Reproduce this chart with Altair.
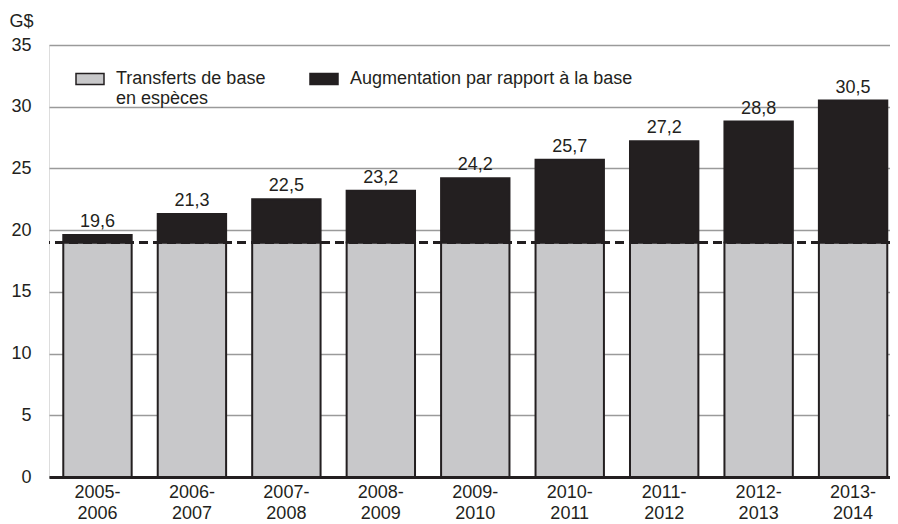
import altair as alt
import pandas as pd

years = ["2005-2006", "2006-2007", "2007-2008", "2008-2009", "2009-2010",
         "2010-2011", "2011-2012", "2012-2013", "2013-2014"]
totals = [19.6, 21.3, 22.5, 23.2, 24.2, 25.7, 27.2, 28.8, 30.5]
base = [19.0, 19.0, 19.0, 19.0, 19.0, 19.0, 19.0, 19.0, 19.0]
total_labels = ["19,6", "21,3", "22,5", "23,2", "24,2", "25,7", "27,2", "28,8", "30,5"]
series = ["Transferts de base en espèces", "Augmentation par rapport à la base"]
colors = ["#c8c8ca", "#231f20"]
y_ticks = [0, 5, 10, 15, 20, 25, 30, 35]
BASE_LINE = 19.0

FONT = "Liberation Sans"
INK = "#231f20"

rows = []
for yr, t, b in zip(years, totals, base):
    rows.append({"year": yr, "series": series[0], "value": b, "order": 0})
    rows.append({"year": yr, "series": series[1], "value": round(t - b, 2), "order": 1})
stack_df = pd.DataFrame(rows)
tot_df = pd.DataFrame({"year": years, "total": totals, "label": total_labels})

x_enc = alt.X(
    "year:N", sort=years,
    scale=alt.Scale(paddingInner=0.276, paddingOuter=0.09, align=0.84),
    axis=alt.Axis(
        title=None, labelAngle=0, ticks=False, domainColor=INK, domainWidth=3,
        labelPadding=6, labelFontSize=18, labelLineHeight=21, labelBaseline="top",
        labelColor=INK, labelFont=FONT, zindex=1,
        labelExpr="[slice(datum.label, 0, 5), slice(datum.label, 5)]",
    ),
)

y_scale = alt.Scale(domain=[0, 35], nice=False)

bars = alt.Chart(stack_df).mark_bar(stroke=INK, strokeWidth=2).encode(
    x=x_enc,
    y=alt.Y(
        "value:Q", stack="zero", scale=y_scale,
        axis=alt.Axis(
            title="G$", titleAngle=0, titleAlign="left", titleBaseline="alphabetic",
            titleX=-40, titleY=-19, titleFontSize=18, titleFontWeight="normal",
            titleColor=INK, titleFont=FONT,
            values=y_ticks, domain=False, ticks=False, labelPadding=18,
            labelFontSize=18, labelColor=INK, labelFont=FONT,
            gridColor="#9a9a9a", gridWidth=1.5,
        ),
    ),
    color=alt.Color(
        "series:N",
        scale=alt.Scale(domain=series, range=colors),
        legend=alt.Legend(
            title=None, orient="none", legendX=26, legendY=19, direction="horizontal",
            symbolType="M-1,-0.39L1,-0.39L1,0.39L-1,0.39Z", symbolSize=784,
            symbolStrokeColor=INK, symbolStrokeWidth=1.5,
            labelFontSize=18, labelFont=FONT, labelColor=INK, labelLimit=500,
            labelOffset=11, columnPadding=41, labelBaseline="middle", padding=0,
            labelExpr="datum.label == 'Transferts de base en espèces' ? ['Transferts de base', 'en espèces'] : [datum.label, ' ']",
        ),
    ),
    order=alt.Order("order:Q"),
)

texts = alt.Chart(tot_df).mark_text(
    dy=-8, fontSize=18, baseline="alphabetic", font=FONT, color=INK
).encode(
    x=alt.X("year:N", sort=years),
    y=alt.Y("total:Q", scale=y_scale),
    text="label:N",
)

rule = alt.Chart(tot_df).mark_rule(
    strokeDash=[9, 5], strokeWidth=2, color=INK
).encode(y=alt.datum(BASE_LINE))

chart = alt.layer(bars, rule, texts).properties(
    width=841, height=432,
    autosize=alt.AutoSizeParams(type="none"),
    padding={"left": 41, "top": 37, "right": 0, "bottom": 47},
).configure_view(stroke=None).configure(font=FONT)

chart.save("out.html", embed_options={"renderer": "svg", "actions": False})
